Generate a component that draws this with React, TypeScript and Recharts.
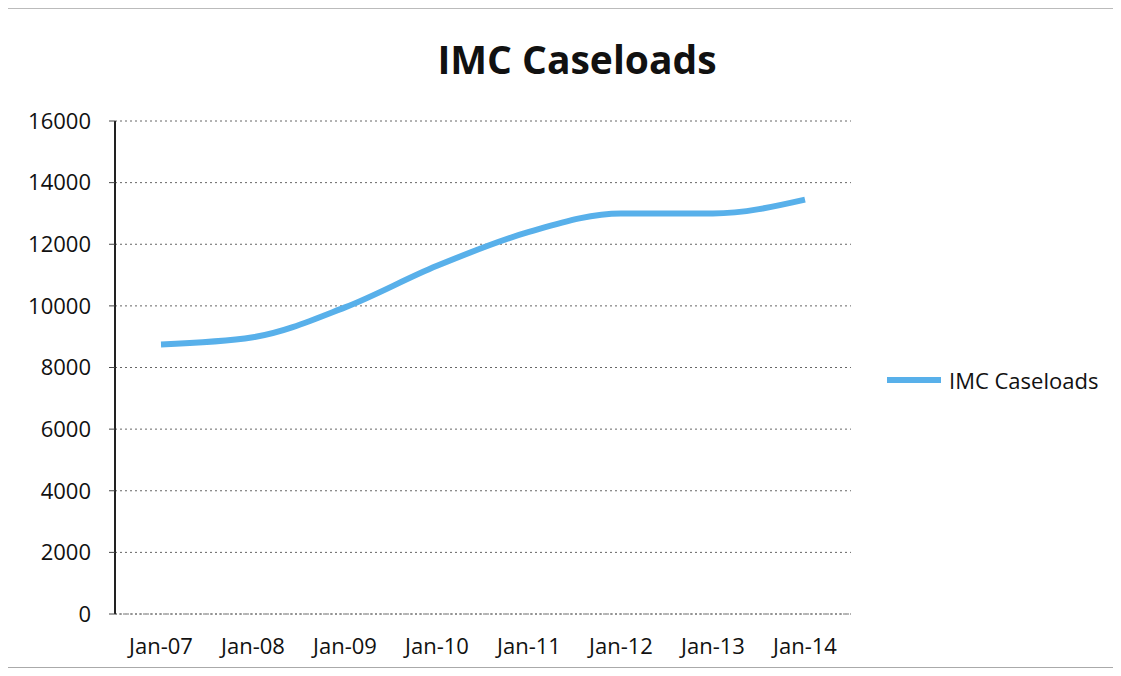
import { LineChart, Line, XAxis, YAxis, CartesianGrid, Legend } from 'recharts';

const months = ['Jan-07', 'Jan-08', 'Jan-09', 'Jan-10', 'Jan-11', 'Jan-12', 'Jan-13', 'Jan-14'];
const caseloads = [8750, 8980, 9950, 11300, 12400, 13000, 13000, 13450];
const yTicks = [0, 2000, 4000, 6000, 8000, 10000, 12000, 14000, 16000];

const data = months.map((month, i) => ({ month, caseloads: caseloads[i] }));

const FONT = '"Open Sans", sans-serif';
const LINE_COLOR = '#58b0ea';

function LegendBox() {
  return (
    <div style={{ display: 'flex', alignItems: 'center', fontFamily: FONT, fontSize: 22, color: '#111' }}>
      <span style={{ display: 'inline-block', width: 54, height: 6, background: LINE_COLOR, marginRight: 8 }} />
      <span>IMC Caseloads</span>
    </div>
  );
}

export default function App() {
  return (
    <div style={{ position: 'relative', margin: -8, width: 1121, height: 676, background: '#fff', overflow: 'hidden', fontFamily: FONT }}>
      <div style={{ position: 'absolute', left: 577, top: 37, transform: 'translateX(-50%)', fontSize: 39, lineHeight: '44px', fontWeight: 700, color: '#111', whiteSpace: 'nowrap' }}>
        IMC Caseloads
      </div>
      <LineChart
        width={1121}
        height={676}
        data={data}
        margin={{ top: 121, right: 270, bottom: 22, left: 0 }}
        style={{ position: 'absolute', left: 0, top: 0 }}
      >
        <CartesianGrid vertical={false} stroke="#666" strokeDasharray="2 3" />
        <XAxis
          dataKey="month"
          height={40}
          padding={{ left: 46, right: 46 }}
          axisLine={{ stroke: '#777', strokeDasharray: '2 2' }}
          tickLine={false}
          tickMargin={18}
          interval={0}
          tick={{ fontSize: 22, fill: '#111', fontFamily: FONT }}
        />
        <YAxis
          width={115}
          domain={[0, 16000]}
          ticks={yTicks}
          interval={0}
          axisLine={{ stroke: '#222', strokeWidth: 2 }}
          tickLine={{ stroke: '#444' }}
          tickSize={6}
          tickMargin={18}
          tick={{ fontSize: 22, fill: '#111', fontFamily: FONT }}
        />
        <Legend
          layout="vertical"
          align="center"
          verticalAlign="middle"
          wrapperStyle={{ left: 887, top: 365, width: 234 }}
          content={() => <LegendBox />}
        />
        <Line
          type="monotone"
          dataKey="caseloads"
          name="IMC Caseloads"
          stroke={LINE_COLOR}
          strokeWidth={6}
          dot={false}
          activeDot={false}
          isAnimationActive={false}
        />
      </LineChart>
      {/* scanned chart border */}
      <div style={{ position: 'absolute', left: 5, top: 8, width: 1200, height: 660, boxSizing: 'border-box', borderLeft: '2px dashed #666', borderTop: '1px solid #bbb', borderBottom: '1px solid #aaa', pointerEvents: 'none', zIndex: 5 }} />
    </div>
  );
}
